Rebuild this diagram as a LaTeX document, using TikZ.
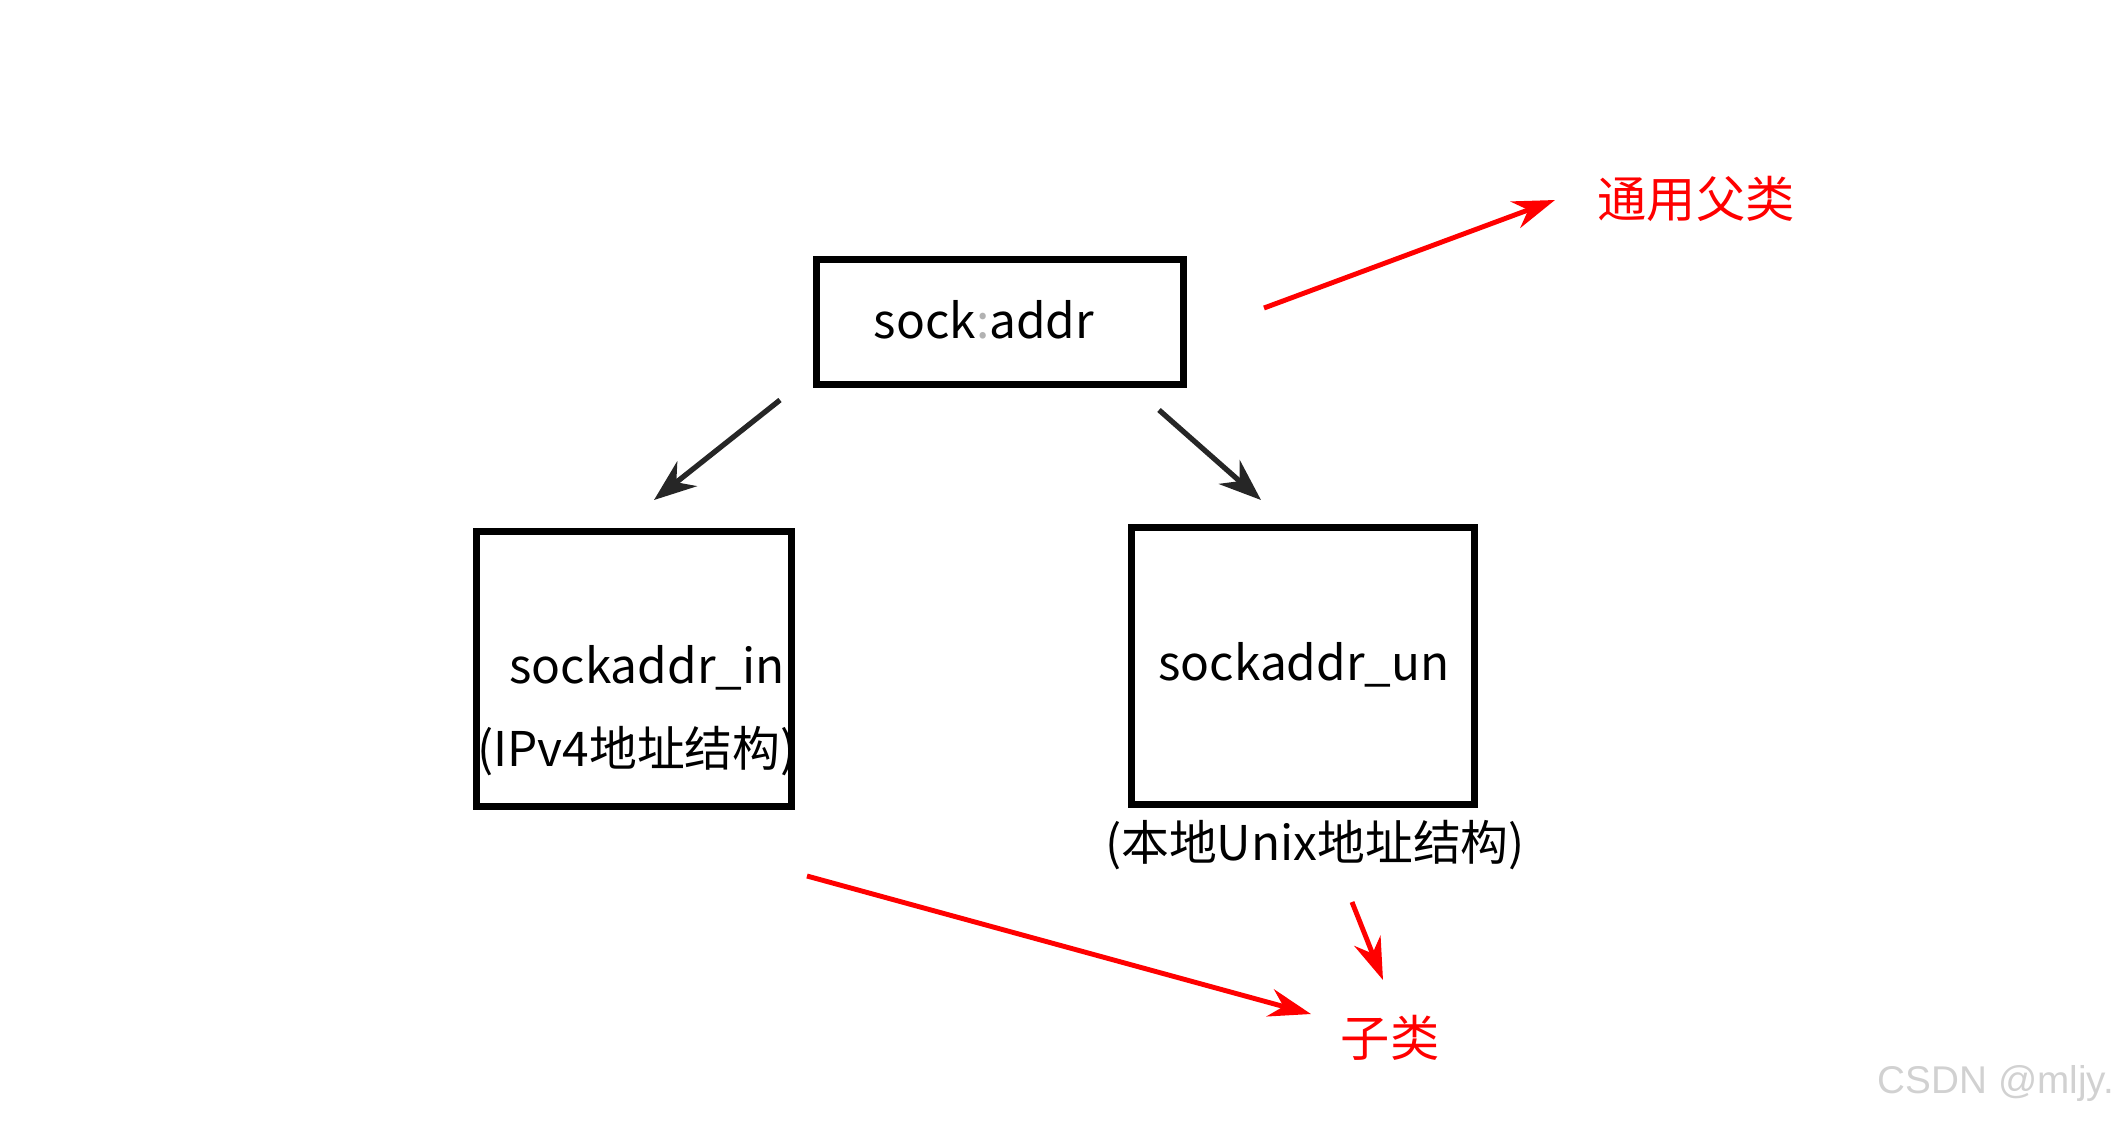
\documentclass[tikz,border=0pt]{standalone}
\usepackage{fontspec}
\setmainfont{Noto Sans CJK SC}
\newfontfamily\wmfont{Liberation Sans}
\usepackage{tikz}
\usetikzlibrary{arrows.meta}

\begin{document}
\begin{tikzpicture}
				[x=0.01cm, y=-0.01cm,
				box/.style = {draw, line width=2pt, rectangle, inner sep=0pt},
				lbl/.style = {inner sep=0pt, font=\fontsize{13.6pt}{16pt}\selectfont},
				redlbl/.style = {inner sep=0pt, text=red, font=\fontsize{14pt}{16pt}\selectfont},
				blkarr/.style = {line width=1.5pt, black!85, -{Stealth[length=12pt, width=9pt]}},
				redarr/.style = {line width=1.4pt, red, -{Stealth[length=12pt, width=8pt]}}]
				\useasboundingbox (0,0) rectangle (2120,1120);
				\node[box, minimum width=3.67cm, minimum height=1.25cm] (base) at (1000,322) {};
				\node[box, minimum width=3.15cm, minimum height=2.74cm] (in) at (634,669) {};
				\node[box, minimum width=3.42cm, minimum height=2.77cm] (un) at (1303,666) {};
				\node[lbl, anchor=base] (tbase) at (984,338) {sock{\color{black!30}:}addr};
				\node[lbl, anchor=base] (tin) at (647,683) {sockaddr\_in};
				\node[lbl, anchor=base] (tin2) at (637,766) {(IPv4地址结构)};
				\node[lbl, anchor=base] (tun) at (1304,680) {sockaddr\_un};
				\node[lbl, anchor=base] (tun2) at (1315,860) {(本地Unix地址结构)};
				\node[redlbl] (parent) at (1696,199) {通用父类};
				\node[redlbl] (child) at (1390,1038) {子类};
				\node[inner sep=0pt, text=black!18, font=\wmfont\fontsize{11pt}{13pt}\selectfont] (wm) at (1996,1083) {CSDN @mljy.};
				\coordinate (b1) at (780,400);
				\coordinate (b2) at (654,500);
				\coordinate (b3) at (1159,410);
				\coordinate (b4) at (1261,500);
				\coordinate (r1) at (1264,308);
				\coordinate (r2) at (1555,200);
				\coordinate (r3) at (807,876);
				\coordinate (r4) at (1311,1014);
				\coordinate (r5) at (1352,902);
				\coordinate (r6) at (1383,980);
				\draw[blkarr] (b1)--(b2);
				\draw[blkarr] (b3)--(b4);
				\draw[redarr] (r1)--(r2);
				\draw[redarr] (r3)--(r4);
				\draw[redarr] (r5)--(r6);
			\end{tikzpicture}
\end{document}
